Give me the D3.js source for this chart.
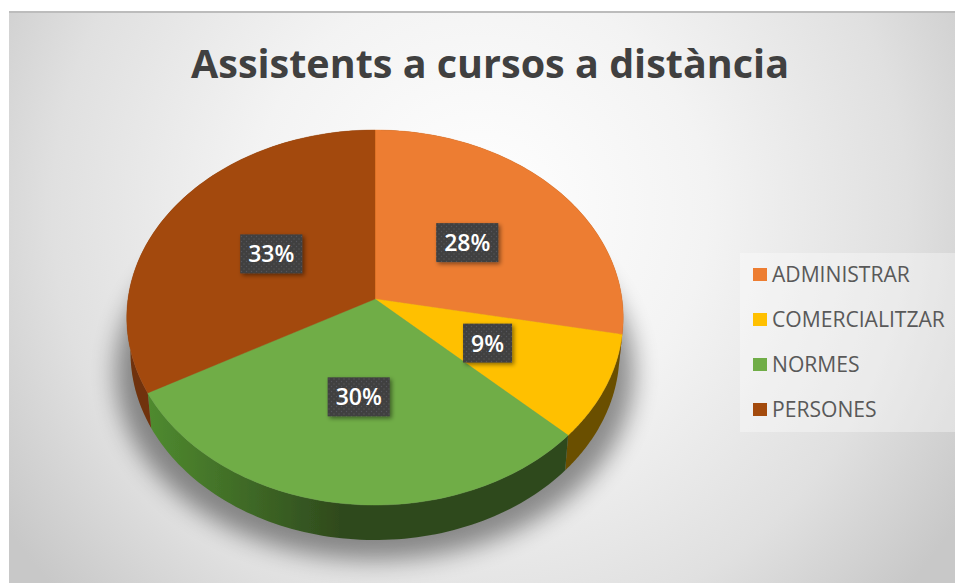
<!DOCTYPE html>
<html><head><meta charset="utf-8">
<style>html,body{margin:0;padding:0;background:#fff}svg{display:block}</style>
<script src="https://cdn.jsdelivr.net/npm/d3@7/dist/d3.min.js"></script>
</head><body><svg id="c" width="960" height="583"></svg>
<script>
const title = "Assistents a cursos a distància";
const categories = ["ADMINISTRAR","COMERCIALITZAR","NORMES","PERSONES"];
const values = [28,9,30,33];
const topColors = ["#ed7d31","#ffc000","#70ad47","#a34a0c"];
const wallLeftColors = ["#8e4b1d","#7f6000","#4f8a2f","#6f3208"];
const wallRightColors = ["#8e4b1d","#6b5000","#2f4a1d","#6f3208"];

const font = "'Open Sans','Noto Sans',sans-serif";
const svg = d3.select("#c");
const defs = svg.append("defs");

const bg = defs.append("radialGradient").attr("id","bg").attr("gradientUnits","userSpaceOnUse")
  .attr("cx",480).attr("cy",210).attr("r",570);
[[0,"#ffffff"],[0.4,"#f3f3f3"],[0.75,"#e0e0e0"],[1,"#c8c8c8"]].forEach(s=>bg.append("stop").attr("offset",s[0]).attr("stop-color",s[1]));

const blur = defs.append("filter").attr("id","sh").attr("x","-20%").attr("y","-20%").attr("width","140%").attr("height","140%");
blur.append("feGaussianBlur").attr("stdDeviation",12);
const soft = defs.append("filter").attr("id","soft").attr("x","-5%").attr("y","-5%").attr("width","110%").attr("height","110%");
soft.append("feGaussianBlur").attr("stdDeviation",0.5);
const ds = defs.append("filter").attr("id","ds").attr("x","-20%").attr("y","-20%").attr("width","150%").attr("height","150%");
ds.append("feDropShadow").attr("dx",2).attr("dy",2).attr("stdDeviation",2).attr("flood-color","#000").attr("flood-opacity",0.45);
const pat = defs.append("pattern").attr("id","dots").attr("patternUnits","userSpaceOnUse").attr("width",5).attr("height",5);
pat.append("rect").attr("width",5).attr("height",5).attr("fill","#404040");
pat.append("circle").attr("cx",1.5).attr("cy",1.5).attr("r",0.7).attr("fill","#55555c");
pat.append("circle").attr("cx",4).attr("cy",4).attr("r",0.7).attr("fill","#55555c");

// frame
svg.append("rect").attr("x",9).attr("y",12).attr("width",946).attr("height",571).attr("fill","url(#bg)");
svg.append("rect").attr("x",9).attr("y",11).attr("width",946).attr("height",2).attr("fill","#bcbcbc");

// title
svg.append("text").attr("x",490).attr("y",78).attr("text-anchor","middle")
  .attr("font-family",font).attr("font-weight",700).attr("font-size",39.5).attr("fill","#404040").text(title);

// perspective projection of the pie disc
const cx=375, cy=299, R=247, B=185.7, k=0.0987, depth=35, shrink=0.985;
const proj=(a,r)=>{const x=r*Math.sin(a),y=-r*Math.cos(a),w=1-k*y;return [cx+R*x/w,cy+B*y/w];};
const projLow=(a)=>{const x=Math.sin(a),y=-Math.cos(a),w=1-k*y;return [cx+shrink*R*x/w,cy+depth+B*y/w];};
const samples=(a0,a1,f)=>d3.range(0,81).map(i=>f(a0+(a1-a0)*i/80));
const line=d3.line();

const arcs=d3.pie().sort(null).value(d=>d)(values);

// drop shadow under the pie
svg.append("path").attr("filter","url(#sh)").attr("fill","#000").attr("opacity",0.42)
  .attr("transform","translate(0,20)")
  .attr("d",line(samples(0,2*Math.PI,a=>{const p=projLow(a);return [cx+(p[0]-cx)*1.06,p[1]];}))+"Z");

const g=svg.append("g").attr("filter","url(#soft)");
// side walls
arcs.forEach((d,i)=>{
  const top=samples(d.startAngle,d.endAngle,a=>proj(a,1));
  const low=samples(d.startAngle,d.endAngle,projLow).reverse();
  const id="w"+i;
  const lg=defs.append("linearGradient").attr("id",id).attr("gradientUnits","userSpaceOnUse")
    .attr("x1",150).attr("x2",340).attr("y1",0).attr("y2",0);
  lg.append("stop").attr("offset",0).attr("stop-color",wallLeftColors[i]);
  lg.append("stop").attr("offset",1).attr("stop-color",wallRightColors[i]);
  g.append("path").attr("fill","url(#"+id+")").attr("d",line(top.concat(low))+"Z");
});
// top faces
arcs.forEach((d,i)=>{
  g.append("path").attr("fill",topColors[i]).attr("stroke",topColors[i]).attr("stroke-width",0.4)
   .attr("d",line([[cx,cy]].concat(samples(d.startAngle,d.endAngle,a=>proj(a,1))))+"Z");
});

// data labels
const total=d3.sum(values);
arcs.forEach((d,i)=>{
  const p=proj((d.startAngle+d.endAngle)/2,0.5);
  const lab=svg.append("g");
  const t=lab.append("text").attr("x",p[0]).attr("y",p[1]+9.5).attr("text-anchor","middle")
    .attr("font-family",font).attr("font-weight",600).attr("font-size",23).attr("fill","#fff")
    .text(d3.format(".0%")(d.value/total));
  const bb=t.node().getBBox();
  lab.insert("rect","text").attr("x",p[0]-bb.width/2-8).attr("y",p[1]-18.5).attr("width",bb.width+16).attr("height",39)
    .attr("fill","url(#dots)").attr("filter","url(#ds)");
});

// legend
svg.append("rect").attr("x",740).attr("y",253).attr("width",215).attr("height",179).attr("fill","#fff").attr("opacity",0.35);
const ly=d3.scalePoint().domain(categories).range([274.5,409.5]);
const leg=svg.selectAll(".l").data(categories).join("g").attr("class","l");
leg.append("rect").attr("x",753).attr("y",d=>ly(d)-6.5).attr("width",14).attr("height",13).attr("fill",(d,i)=>topColors[i]);
leg.append("text").attr("x",772).attr("y",d=>ly(d)+7.5).attr("font-family",font).attr("font-size",21.1).attr("fill","#595959").text(d=>d);
</script></body></html>
